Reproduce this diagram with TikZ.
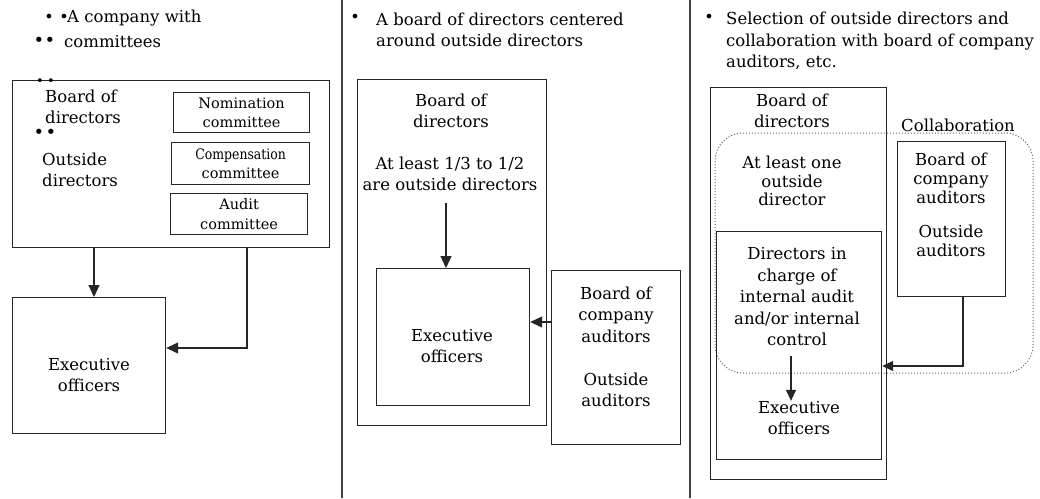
\documentclass[tikz,border=0pt]{standalone}
\usepackage{fontspec}
\setmainfont{DejaVu Serif}
\usetikzlibrary{arrows.meta}
\begin{document}
\begin{tikzpicture}[x=1pt,y=-1pt,
  box/.style={draw=black!85, line width=1.2pt, rectangle, inner sep=0pt, anchor=north west},
  txt/.style={font=\fontsize{16.5}{21.5}\selectfont, align=center, inner sep=0pt, text=black},
  small/.style={font=\fontsize{14.5}{19.5}\selectfont, align=center, inner sep=0pt, text=black},
  dot/.style={font=\fontsize{16}{16}\selectfont, inner sep=0pt},
  conn/.style={draw=black!85, line width=1.2pt},
  arr/.style={conn, -{Triangle[length=12pt,width=11pt]}},
  divider/.style={draw=black!75, line width=1.2pt}]
\useasboundingbox (0,0) rectangle (1040,498);
\fill[white] (0,0) rectangle (1040,498);

% dividers
\coordinate (d1t) at (342,0); \coordinate (d1b) at (342,498);
\coordinate (d2t) at (690,0); \coordinate (d2b) at (690,498);
\draw[divider] (d1t) -- (d1b);
\draw[divider] (d2t) -- (d2b);

% ---------------- Panel 1 ----------------
\node[dot] (p1b1) at (49,18) {•};
\node[dot] (p1b2) at (64,18) {•};
\node[txt, anchor=west] (p1t1) at (67,18) {A company with};
\node[dot, font=\fontsize{18}{18}\selectfont] (p1b3) at (39,42) {•};
\node[dot, font=\fontsize{18}{18}\selectfont] (p1b4) at (50,42) {•};
\node[txt, anchor=west] (p1t2) at (64,42) {committees};

\node[box, minimum width=317pt, minimum height=167pt] (big) at (12,80) {};
\node[dot, font=\fontsize{13}{13}\selectfont] (p1d1) at (40,82) {•};
\node[dot, font=\fontsize{13}{13}\selectfont] (p1d2) at (51,82) {•};
\node[txt, align=left, anchor=west] (bod1) at (45,107) {Board of\\directors};
\node[dot, font=\fontsize{18}{18}\selectfont] (p1d3) at (39,134) {•};
\node[dot, font=\fontsize{18}{18}\selectfont] (p1d4) at (51,134) {•};
\node[txt, align=left, anchor=west] (out1) at (42,170) {Outside\\directors};

\node[box, minimum width=136pt, minimum height=40pt] (nom) at (173,92) {};
\node[small] (nomt) at (nom.center) {Nomination\\committee};
\node[box, minimum width=138pt, minimum height=42pt] (comp) at (171,142) {};
\node[small] (compt) at (comp.center) {\scalebox{0.86}[1]{Compensation}\\committee};
\node[box, minimum width=137pt, minimum height=41pt] (aud) at (170,193) {};
\node[small] (audt) at (aud.center) {Audit\\committee};

\node[box, minimum width=153pt, minimum height=136pt] (exec1) at (12,297) {};
\node[txt] (exec1t) at (89,375) {Executive\\officers};

\coordinate (a1) at (94,0);
\coordinate (a2) at (247,0);
\coordinate (a2c) at (247,348);
\draw[arr] (big.south -| a1) -- (exec1.north -| a1);
\draw[arr] (big.south -| a2) -- (a2c) -- (exec1.east |- a2c);

% ---------------- Panel 2 ----------------
\node[dot] (p2b) at (355,18) {•};
\node[txt, align=left, anchor=west] (p2t) at (376,30) {A board of directors centered\\around outside directors};

\node[box, minimum width=189pt, minimum height=346pt] (board2) at (357,79) {};
\node[txt] (bod2) at (451,111) {Board of\\directors};
\node[txt] (ba2) at (450,174) {At least 1/3 to 1/2\\are outside directors};
\node[box, minimum width=153pt, minimum height=137pt] (exec2) at (376,268) {};
\node[txt] (exec2t) at (452,346) {Executive\\officers};
\node[box, minimum width=129pt, minimum height=174pt] (aud2) at (551,270) {};
\node[txt] (aud2t) at (616,347) {Board of\\company\\auditors\\[1.3em]Outside\\auditors};

\coordinate (a3) at (446,203);
\coordinate (a4) at (0,322);
\draw[arr] (a3) -- (exec2.north -| a3);
\draw[arr] (aud2.west |- a4) -- (exec2.east |- a4);

% ---------------- Panel 3 ----------------
\node[dot] (p3b) at (709,18) {•};
\node[txt, align=left, anchor=west] (p3t) at (726,41) {Selection of outside directors and\\collaboration with board of company\\auditors, etc.};

\node[box, minimum width=176pt, minimum height=392pt] (board3) at (710,87) {};
\node[txt] (bod3) at (792,111) {Board of\\directors};
\node[txt, anchor=west] (collab) at (901,125) {Collaboration};
\draw[draw=black!60, line width=1pt, dotted, rounded corners=28pt] (715,133) rectangle (1033,373);
\node[txt, font=\fontsize{16.5}{18.5}\selectfont] (al3) at (792,181) {At least one\\outside\\director};
\node[box, minimum width=108pt, minimum height=155pt] (aud3) at (897,141) {};
\node[txt, font=\fontsize{16.5}{19}\selectfont] (aud3t) at (951,205) {Board of\\company\\auditors\\[0.9em]Outside\\auditors};
\node[box, minimum width=165pt, minimum height=228pt] (inner3) at (716,231) {};
\node[txt] (dir3) at (797,297) {Directors in\\charge of\\internal audit\\and/or internal\\control};
\node[txt] (exec3t) at (799,418) {Executive\\officers};

\coordinate (a5) at (791,356);
\coordinate (a6) at (963,0);
\coordinate (a6c) at (963,366);
\draw[arr, -{Triangle[length=11pt,width=10pt]}] (a5) -- (exec3t.north -| a5);
\draw[arr, -{Triangle[length=11pt,width=10pt]}] (aud3.south -| a6) -- (a6c) -- (inner3.east |- a6c);
\end{tikzpicture}
\end{document}
